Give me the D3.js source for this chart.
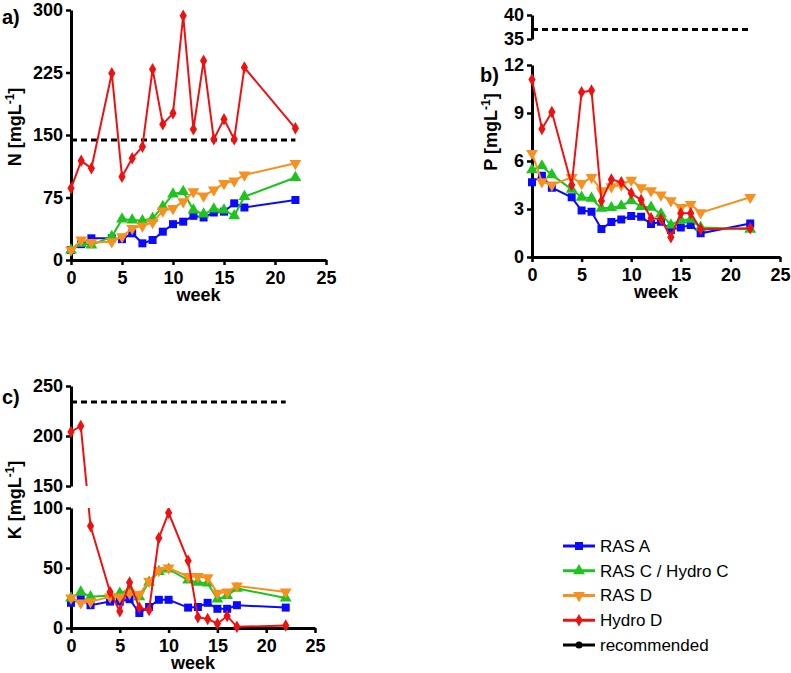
<!DOCTYPE html>
<html lang="en">
<head>
  <meta charset="UTF-8">
  <title>N, P, K over weeks</title>
  <script src="https://d3js.org/d3.v7.min.js"></script>
  <style>
    body { margin: 0; background: #fff; }
    svg { display: block; font-family: Arial, "Liberation Sans", sans-serif; }
    .axis path, .axis line { stroke: #000; }
    .axis path { stroke-width: 3; }
    .axis line { stroke-width: 2.5; }
    .axis text { font-size: 18px; font-weight: bold; fill: #000; font-family: Arial, "Liberation Sans", sans-serif; }
  </style>
</head>
<body>
  <svg id="chart" width="791" height="673"></svg>

  <script>
    // ---- data ----
    const weeksNP = [0, 1, 2, 4, 5, 6, 7, 8, 9, 10, 11, 12, 13, 14, 15, 16, 17, 22];
    const weeksK = [0, 1, 2, 4, 5, 6, 7, 8, 9, 10, 12, 13, 14, 15, 16, 17, 22];
    const weekTicks = [0, 5, 10, 15, 20, 25];

    const seriesNames = ["RAS A", "RAS C / Hydro C", "RAS D", "Hydro D", "recommended"];
    const seriesColors = ["#0a0aff", "#1ec41e", "#f7901e", "#ee1111", "#000000"];
    const seriesSymbols = ["square", "triangle", "triangleDown", "diamond", "circle"];

    const rasA_N = [12, 19, 26, 26, 25, 32, 20, 24, 34, 43, 46, 53, 51, 57, 58, 68, 63, 72];
    const rasC_N = [12, 20, 18, 28, 49, 48, 47, 50, 64, 79, 82, 60, 55, 61, 60, 53, 76, 99];
    const rasD_N = [12, 24, 21, 22, 28, 38, 41, 45, 59, 62, 70, 82, 77, 84, 92, 95, 102, 116];
    const hydroD_N = [86, 119, 110, 224, 100, 122, 136, 229, 163, 176, 293, 157, 239, 145, 169, 145, 231, 158];
    const recommendedN = 144;
    const ticksN = [0, 75, 150, 225, 300];

    const rasA_P = [4.67, 5.08, 4.33, 3.73, 2.9, 2.83, 1.75, 2.19, 2.35, 2.56, 2.52, 2.06, 2.2, 1.69, 1.85, 2.0, 1.48, 2.1];
    const rasC_P = [5.44, 5.69, 5.13, 4.23, 3.73, 3.67, 3.04, 3.08, 3.19, 3.52, 3.15, 3.1, 2.69, 2.0, 2.31, 2.35, 1.85, 1.73];
    const rasD_P = [6.48, 4.71, 4.5, 4.98, 4.6, 4.98, 4.15, 4.4, 4.5, 4.81, 4.33, 4.15, 3.88, 3.52, 3.1, 3.29, 2.77, 3.73];
    const hydroD_P = [11.1, 8.0, 9.06, 4.5, 10.3, 10.4, 3.5, 4.85, 4.67, 3.98, 3.56, 2.42, 2.37, 1.23, 2.73, 2.73, 1.73, 1.8];
    const recommendedP = 37;
    const ticksPLow = [0, 3, 6, 9, 12];
    const ticksPHigh = [35, 40];

    const rasA_K = [21, 24, 19, 22, 22, 24, 12.5, 17.5, 23.5, 23.5, 17, 17.5, 21, 16, 16, 19, 17];
    const rasC_K = [25, 30, 26, 27, 29, 32, 26, 38, 47, 49, 40, 38, 37.5, 24, 27, 33, 25];
    const rasD_K = [25, 21, 22, 26, 26, 29, 28, 39, 48, 50, 43, 43, 42, 29, 30, 35, 30];
    const hydroD_K = [204, 210, 85, 30, 14, 38, 17, 15, 75, 96, 56, 9, 7.5, 3.6, 10, 1, 2];
    const recommendedK = 234;
    const ticksKLow = [0, 50, 100];
    const ticksKHigh = [150, 200, 250];

    const svg = d3.select("#chart");

    // ---- panel a (N) ----
    drawPanel({
      id: "a", label: "a)", labelX: 2, labelY: 24, ylabel: "N", ylabelX: 21, ylabelY: 127,
      x: d3.scaleLinear([0, 25], [71, 326]),
      y: d3.scaleLinear([0, 300], [260, 10]),
      axes: [{ scale: d3.scaleLinear([0, 300], [260, 10]), ticks: ticksN }],
      weeks: weeksNP,
      series: [rasA_N, rasC_N, rasD_N, hydroD_N],
      recommended: recommendedN
    });

    // ---- panel b (P), broken y axis ----
    drawPanel({
      id: "b", label: "b)", labelX: 480, labelY: 82, ylabel: "P", ylabelX: 497, ylabelY: 132,
      x: d3.scaleLinear([0, 25], [532, 780]),
      y: d3.scaleLinear([0, 12, 35, 40], [257, 65, 39, 15]),
      gap: [39, 65],
      axes: [
        { scale: d3.scaleLinear([0, 12], [257, 65]), ticks: ticksPLow },
        { scale: d3.scaleLinear([35, 40], [39, 15]), ticks: ticksPHigh }
      ],
      weeks: weeksNP,
      series: [rasA_P, rasC_P, rasD_P, hydroD_P],
      recommended: recommendedP
    });

    // ---- panel c (K), broken y axis ----
    drawPanel({
      id: "c", label: "c)", labelX: 2, labelY: 404, ylabel: "K", ylabelX: 21, ylabelY: 500,
      x: d3.scaleLinear([0, 25], [71, 315]),
      y: d3.scaleLinear([0, 100, 150, 250], [628, 508, 486, 386]),
      gap: [486, 508],
      axes: [
        { scale: d3.scaleLinear([0, 100], [628, 508]), ticks: ticksKLow },
        { scale: d3.scaleLinear([150, 250], [486, 386]), ticks: ticksKHigh }
      ],
      weeks: weeksK,
      series: [rasA_K, rasC_K, rasD_K, hydroD_K],
      recommended: recommendedK
    });

    drawLegend();

    function symbolPath(name) {
      if (name === "square") return d3.symbol(d3.symbolSquare, 64)();
      if (name === "diamond") return d3.symbol(d3.symbolDiamond, 45)();
      if (name === "circle") return d3.symbol(d3.symbolCircle, 40)();
      return d3.symbol(d3.symbolTriangle, 60)();
    }

    function drawMarker(g, name, color, cx, cy) {
      g.append("path")
        .attr("d", symbolPath(name))
        .attr("transform", `translate(${cx},${cy})` + (name === "triangleDown" ? " rotate(180)" : ""))
        .attr("fill", color);
    }

    function drawPanel(p) {
      const g = svg.append("g");
      const x = p.x, y = p.y;
      const xr = x.range();
      const yBottom = p.axes[0].scale.range()[0];

      // clipping for the axis break
      let clip = null;
      if (p.gap) {
        const cp = svg.append("clipPath").attr("id", "clip-" + p.id);
        cp.append("rect").attr("x", 0).attr("y", 0).attr("width", 791).attr("height", p.gap[0]);
        cp.append("rect").attr("x", 0).attr("y", p.gap[1]).attr("width", 791).attr("height", 673 - p.gap[1]);
        clip = `url(#clip-${p.id})`;
      }

      // axes
      p.axes.forEach(a => {
        g.append("g")
          .attr("class", "axis")
          .attr("transform", `translate(${xr[0]},0)`)
          .call(d3.axisLeft(a.scale).tickValues(a.ticks).tickFormat(d3.format("d"))
            .tickSize(5).tickSizeOuter(0).tickPadding(3));
      });
      g.append("g")
        .attr("class", "axis")
        .attr("transform", `translate(0,${yBottom})`)
        .call(d3.axisBottom(x).tickValues(weekTicks).tickSize(5).tickSizeOuter(0).tickPadding(6));

      g.append("text")
        .attr("x", (xr[0] + xr[1]) / 2)
        .attr("y", yBottom + 41)
        .attr("text-anchor", "middle")
        .attr("font-size", "18px")
        .attr("font-weight", "bold")
        .text("week");

      const yl = g.append("text")
        .attr("transform", `translate(${p.ylabelX},${p.ylabelY}) rotate(-90)`)
        .attr("text-anchor", "middle")
        .attr("font-size", "18px")
        .attr("font-weight", "bold");
      yl.append("tspan").text(p.ylabel + " [mgL");
      yl.append("tspan").attr("font-size", "12px").attr("baseline-shift", "super").text("-1");
      yl.append("tspan").text("]");

      g.append("text")
        .attr("x", p.labelX)
        .attr("y", p.labelY)
        .attr("font-size", "20px")
        .attr("font-weight", "bold")
        .text(p.label);

      // recommended level
      g.append("line")
        .attr("x1", x(0)).attr("x2", x(22))
        .attr("y1", y(p.recommended)).attr("y2", y(p.recommended))
        .attr("stroke", "#000")
        .attr("stroke-width", 3)
        .attr("stroke-dasharray", "6,4");

      const data = g.append("g").attr("clip-path", clip);
      const line = d3.line().x(d => x(d[0])).y(d => y(d[1]));

      p.series.forEach((vals, i) => {
        const pts = p.weeks.map((w, j) => [w, vals[j]]);
        data.append("path")
          .attr("d", line(pts))
          .attr("fill", "none")
          .attr("stroke", seriesColors[i])
          .attr("stroke-width", 2);
        pts.forEach(d => drawMarker(data, seriesSymbols[i], seriesColors[i], x(d[0]), y(d[1])));
      });
    }

    function drawLegend() {
      const legendY = d3.scalePoint().domain(seriesNames).range([546, 645]);
      const lg = svg.append("g");
      seriesNames.forEach((name, i) => {
        const cy = legendY(name);
        lg.append("line")
          .attr("x1", 563).attr("x2", 595)
          .attr("y1", cy).attr("y2", cy)
          .attr("stroke", seriesColors[i])
          .attr("stroke-width", 3);
        drawMarker(lg, seriesSymbols[i], seriesColors[i], 579, cy);
        lg.append("text")
          .attr("x", 600)
          .attr("y", cy)
          .attr("dy", "0.35em")
          .attr("font-size", "17px")
          .text(name);
      });
    }
  </script>
</body>
</html>
